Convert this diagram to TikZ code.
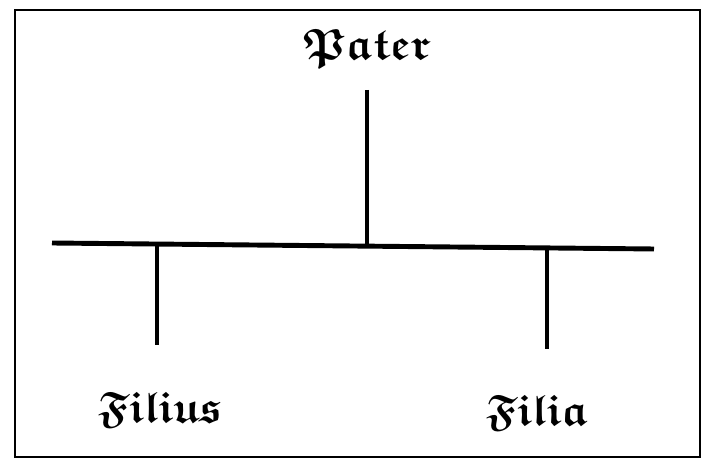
\documentclass[tikz,border=0pt]{standalone}
\usepackage{amssymb}
\usepackage{bm}
\newcommand*{\Frak}[1]{\ensuremath{\bm{\mathfrak{#1}}}}
\tikzset{
    frak/.style={font=\fontsize{25}{30}\selectfont},
    stem/.style={line width=2.2pt},
    bar/.style={line width=2.8pt},
}
\begin{document}
\begin{tikzpicture}[x=0.02cm,y=-0.02cm]
    \useasboundingbox (0,0) rectangle (704,465);
    \draw[line width=1.3pt] (15,10) rectangle (700,457);
    \node[frak] (pater) at (367,48) {\Frak{Pater}};
    \node[frak] (filius) at (160,410) {\Frak{Filius}};
    \node[frak] (filia) at (537,413) {\Frak{Filia}};
    \coordinate (ptop) at (367,90);
    \coordinate (pjoin) at (367,246);
    \coordinate (barl) at (52,243);
    \coordinate (barr) at (654,249);
    \coordinate (ljoin) at (157,244);
    \coordinate (lend) at (157,345);
    \coordinate (rjoin) at (547,248);
    \coordinate (rend) at (547,349);
    \draw[bar] (barl) -- (barr);
    \draw[stem] (ptop) -- (pjoin);
    \draw[stem] (ljoin) -- (lend);
    \draw[stem] (rjoin) -- (rend);
\end{tikzpicture}
\end{document}
